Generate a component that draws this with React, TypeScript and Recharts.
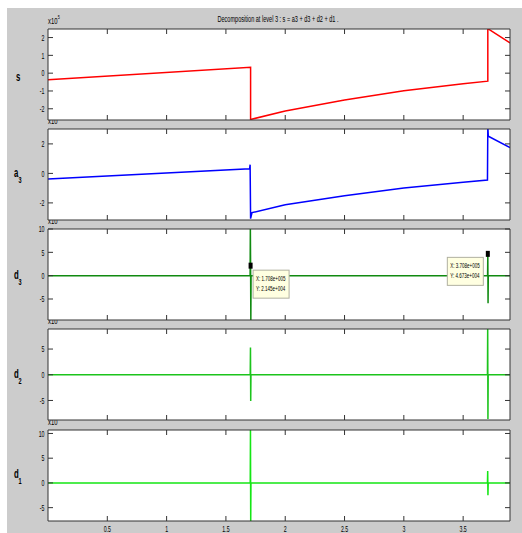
import React from "react"
import {
  LineChart,
  Line,
  XAxis,
  YAxis,
  CartesianGrid,
  ReferenceDot,
} from "recharts"

// signal and its level-3 decomposition, x in units of 1e5 samples
const S_X = [0, 1.708, 1.708, 2.0, 2.5, 3.0, 3.5, 3.708, 3.708, 3.895]
const S_Y = [-0.37, 0.33, -2.6, -2.12, -1.51, -0.99, -0.6, -0.45, 2.5, 1.7]

const A3_X = [0, 1.7, 1.704, 1.708, 1.72, 2.0, 2.5, 3.0, 3.5, 3.705, 3.708, 3.712, 3.895]
const A3_Y = [-0.38, 0.32, 0.59, -3.07, -2.66, -2.12, -1.51, -0.99, -0.6, -0.45, 3.2, 2.52, 1.75]

const D3_X = [0, 1.704, 1.706, 1.708, 1.71, 1.712, 3.706, 3.708, 3.71, 3.712, 3.895]
const D3_Y = [0, 0, 10.5, 2.145, -9.6, 0, 0, 4.673, -5.9, 0, 0]

const D2_X = [0, 1.705, 1.707, 1.709, 1.711, 3.705, 3.707, 3.709, 3.711, 3.895]
const D2_Y = [0, 0, 5.3, -5.1, 0, 0, 9.5, -8.6, 0, 0]

const D1_X = [0, 1.705, 1.707, 1.709, 1.711, 3.705, 3.707, 3.709, 3.711, 3.895]
const D1_Y = [0, 0, 11, -8, 0, 0, 2.4, -2.5, 0, 0]

const X_TICKS = [0.5, 1, 1.5, 2, 2.5, 3, 3.5]
const X_DOMAIN = [0, 3.895]

// data tips on d3
const TIPS = [
  { x: 1.708, y: 2.145, xs: "X: 1.708e+005", ys: "Y: 2.145e+004", side: "right" },
  { x: 3.708, y: 4.673, xs: "X: 3.708e+005", ys: "Y: 4.673e+004", side: "left" },
]

const FRAME = "#333"
const FONT = "'Liberation Sans', Arial, sans-serif"
const SQ = 0.55 // the figure is squeezed horizontally
const TICK = 5

const toPts = (xs: number[], ys: number[]) => xs.map((x, i) => ({ x, y: ys[i] }))

const PANELS = [
  { name: "s", sub: "", exp: "5", top: 29, data: toPts(S_X, S_Y), color: "#ff0000", domain: [-2.63, 2.48], ticks: [-2, -1, 0, 1, 2], base: 81 },
  { name: "a", sub: "3", exp: "5", top: 129, data: toPts(A3_X, A3_Y), color: "#0000ff", domain: [-3.16, 3.01], ticks: [-2, 0, 2], base: 177 },
  { name: "d", sub: "3", exp: "4", top: 229, data: toPts(D3_X, D3_Y), color: "#108a10", domain: [-9.5, 10], ticks: [-5, 0, 5, 10], base: 278.5 },
  { name: "d", sub: "2", exp: "4", top: 329, data: toPts(D2_X, D2_Y), color: "#1cc41c", domain: [-8.8, 8.9], ticks: [-5, 0, 5], base: 377.5 },
  { name: "d", sub: "1", exp: "4", top: 430, data: toPts(D1_X, D1_Y), color: "#14e614", domain: [-7.7, 10.7], ticks: [-5, 0, 5, 10], base: 477.5 },
]
const PH = 91

function SText({ x, y, size, anchor = "start", bold = false, scale = SQ, children }: any) {
  return (
    <text
      transform={`translate(${x} ${y}) scale(${scale} 1)`}
      textAnchor={anchor}
      fontSize={size}
      fontFamily={FONT}
      fontWeight={bold ? "bold" : "normal"}
      fill="#000"
    >
      {children}
    </text>
  )
}

const xTick = (side: string, label: boolean) => (p: any) => {
  const { x, y, payload } = p
  const d = side === "bottom" ? -TICK : TICK
  return (
    <g>
      <line x1={x} x2={x} y1={y} y2={y + d} stroke={FRAME} />
      {label && (
        <SText x={x} y={y + 10.5} size={9.5} anchor="middle">
          {String(payload.value)}
        </SText>
      )}
    </g>
  )
}

const yTick = (side: string, label: boolean) => (p: any) => {
  const { x, y, payload } = p
  const d = side === "left" ? TICK : -TICK
  return (
    <g>
      <line x1={x} x2={x + d} y1={y} y2={y} stroke={FRAME} />
      {label && (
        <SText x={x - 3.5} y={y + 3.3} size={9.5} anchor="end">
          {String(payload.value)}
        </SText>
      )}
    </g>
  )
}

function TipShape(props: any) {
  const { cx, cy, tip } = props
  const w = 36
  const h = 28
  const bx = tip.side === "right" ? cx + 2.5 : cx - 4.5 - w
  const by = tip.side === "right" ? cy + 4.5 : cy + 3.5
  return (
    <g>
      <rect x={cx - 2} y={cy - 3} width={4} height={6} fill="#000" />
      <rect x={bx} y={by} width={w} height={h} fill="#ffffe1" stroke="#b0b0a0" />
      <SText x={bx + 3} y={by + 10.5} size={7.5} scale={0.6}>{tip.xs}</SText>
      <SText x={bx + 3} y={by + 21} size={7.5} scale={0.6}>{tip.ys}</SText>
    </g>
  )
}

export default function App() {
  return (
    <div style={{ position: "absolute", left: 0, top: 0, width: 522, height: 533, background: "#fff" }}>
      <div style={{ position: "absolute", left: 7, top: 8, width: 515, height: 525, background: "#cccccc" }} />
      <svg width={522} height={533} style={{ position: "absolute", left: 0, top: 0 }}>
        <text
          x={278}
          y={22}
          textAnchor="middle"
          fontSize={8.5}
          fontFamily={FONT}
          textLength={121}
          lengthAdjust="spacingAndGlyphs"
        >
          Decomposition at level 3 : s = a3 + d3 + d2 + d1 .
        </text>
        {PANELS.map((p, i) => (
          <g key={"lab" + i}>
            <SText x={48} y={p.top - 5} size={9.5} scale={0.62}>x10</SText>
            <SText x={57.8} y={p.top - 10} size={6} scale={0.62}>{p.exp}</SText>
            <SText x={p.sub ? 14 : 16} y={p.base} size={12} bold scale={0.65}>{p.name}</SText>
            {p.sub && (
              <SText x={18.6} y={p.base + 6} size={8.5} bold scale={0.65}>{p.sub}</SText>
            )}
          </g>
        ))}
      </svg>
      {PANELS.map((p, i) => {
        const last = i === PANELS.length - 1
        return (
          <div key={i} style={{ position: "absolute", left: 0, top: p.top - 20 }}>
            <LineChart
              width={522}
              height={PH + 34}
              data={p.data}
              margin={{ top: 19, right: 0, bottom: 0, left: 0 }}
            >
              <CartesianGrid fill="#fff" horizontal={false} vertical={false} />
              <XAxis
                xAxisId="b"
                dataKey="x"
                type="number"
                domain={X_DOMAIN}
                ticks={X_TICKS}
                interval={0}
                height={14}
                tickSize={0}
                tickMargin={0}
                tickLine={false}
                axisLine={{ stroke: FRAME }}
                tick={xTick("bottom", last)}
                allowDataOverflow
              />
              <XAxis
                xAxisId="t"
                orientation="top"
                dataKey="x"
                type="number"
                domain={X_DOMAIN}
                ticks={X_TICKS}
                interval={0}
                height={1}
                tickSize={0}
                tickMargin={0}
                tickLine={false}
                axisLine={{ stroke: FRAME }}
                tick={xTick("top", false)}
                allowDataOverflow
              />
              <YAxis
                yAxisId="l"
                type="number"
                domain={p.domain}
                ticks={p.ticks}
                interval={0}
                width={48}
                tickSize={0}
                tickMargin={0}
                tickLine={false}
                axisLine={{ stroke: FRAME }}
                tick={yTick("left", true)}
                allowDataOverflow
              />
              <YAxis
                yAxisId="r"
                orientation="right"
                type="number"
                domain={p.domain}
                ticks={p.ticks}
                interval={0}
                width={12}
                tickSize={0}
                tickMargin={0}
                tickLine={false}
                axisLine={{ stroke: FRAME }}
                tick={yTick("right", false)}
                allowDataOverflow
              />
              <Line
                xAxisId="b"
                yAxisId="l"
                type="linear"
                dataKey="y"
                stroke={p.color}
                strokeWidth={1.5}
                dot={false}
                isAnimationActive={false}
              />
              {i === 2 &&
                TIPS.map((t, k) => (
                  <ReferenceDot
                    key={k}
                    xAxisId="b"
                    yAxisId="l"
                    x={t.x}
                    y={t.y}
                    r={3}
                    shape={(sp: any) => <TipShape {...sp} tip={t} />}
                  />
                ))}
            </LineChart>
          </div>
        )
      })}
    </div>
  )
}
